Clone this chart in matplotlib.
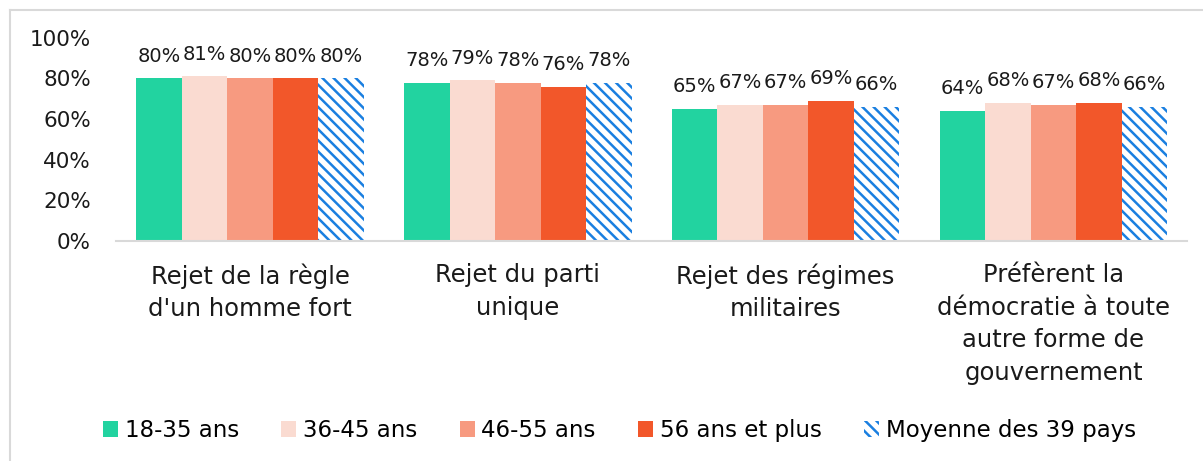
import matplotlib.pyplot as plt
from matplotlib.lines import Line2D
from matplotlib.patches import Patch
import numpy as np

plt.rcParams['font.family'] = ['DejaVu Sans']
plt.rcParams['hatch.linewidth'] = 1.8

categories = ["Rejet de la règle\nd'un homme fort", "Rejet du parti\nunique",
              "Rejet des régimes\nmilitaires",
              "Préfèrent la\ndémocratie à toute\nautre forme de\ngouvernement"]
series = ["18-35 ans", "36-45 ans", "46-55 ans", "56 ans et plus", "Moyenne des 39 pays"]
values = [
    [80, 78, 65, 64],
    [81, 79, 67, 68],
    [80, 78, 67, 67],
    [80, 76, 69, 68],
    [80, 78, 66, 66],
]
colors = ['#22D3A0', '#FADBD1', '#F79A80', '#F2572A', '#FFFFFF']
hatch_color = '#1A7FE0'
yticks = [0, 20, 40, 60, 80, 100]

fig = plt.figure(figsize=(12.03, 4.61), dpi=100)
ax = fig.add_axes([0.0965, 0.477, 0.8905, 0.441])

x = np.arange(len(categories))
w = 0.17
for i, (name, vals) in enumerate(zip(series, values)):
    pos = x + (i - 2) * w
    if i == 4:
        bars = ax.bar(pos, vals, w, color='white', edgecolor=hatch_color,
                      hatch='\\\\\\', linewidth=0, label=name)
    else:
        bars = ax.bar(pos, vals, w, color=colors[i], linewidth=0, label=name)
    ax.bar_label(bars, labels=[f'{v}%' for v in vals], padding=9, fontsize=14, color='#1a1a1a')

ax.set_xlim(-0.5, len(categories) - 0.5)
ax.set_ylim(0, 100)
ax.set_yticks(yticks)
ax.set_yticklabels([f'{t}%' for t in yticks], fontsize=15.5, color='#1a1a1a')
ax.set_xticks(x)
ax.set_xticklabels(categories, fontsize=17.5, color='#1a1a1a', linespacing=1.45)
ax.tick_params(axis='both', length=0)
ax.tick_params(axis='x', pad=16)
ax.tick_params(axis='y', pad=18)
for s in ['top', 'right', 'left']:
    ax.spines[s].set_visible(False)
ax.spines['bottom'].set_color('#D9D9D9')
ax.spines['bottom'].set_linewidth(1.5)

handles = [Patch(facecolor=c, edgecolor='none') for c in colors[:4]]
handles.append(Patch(facecolor='white', edgecolor=hatch_color, hatch='\\\\\\', linewidth=0))
fig.legend(handles, series, loc='center', bbox_to_anchor=(0.515, 0.066), ncol=5,
           frameon=False, fontsize=16.5, handlelength=0.65, handleheight=0.65,
           handletextpad=0.3, columnspacing=1.85)

fig.add_artist(Line2D([10 / 1203, 10 / 1203], [0, 1 - 10 / 461], transform=fig.transFigure,
                      color='#D9D9D9', linewidth=1.5))
fig.add_artist(Line2D([10 / 1203, 1], [1 - 10 / 461, 1 - 10 / 461], transform=fig.transFigure,
                      color='#D9D9D9', linewidth=1.5))

fig.savefig('out.png', dpi=100)
